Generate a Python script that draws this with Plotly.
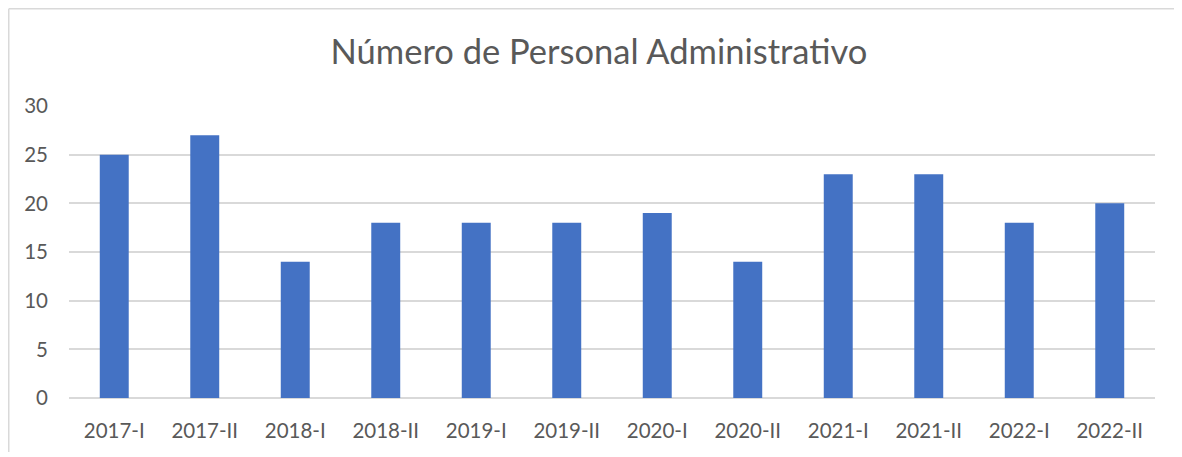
import plotly.graph_objects as go

categories = ["2017-I", "2017-II", "2018-I", "2018-II", "2019-I", "2019-II",
              "2020-I", "2020-II", "2021-I", "2021-II", "2022-I", "2022-II"]
values = [25, 27, 14, 18, 18, 18, 19, 14, 23, 23, 18, 20]
y_ticks = [0, 5, 10, 15, 20, 25, 30]

# page is offset by the default 8px body margin
OFF = 8
W, H = 1182, 457
L = 69 - OFF
T = 106 - OFF
R = W - (1155 - OFF)
B = H - (398 - OFF)
pw, ph = W - L - R, H - T - B

def px_x(px):
    return (px - L) / pw

def px_y(py):
    return (H - B - py) / ph

fig = go.Figure(go.Bar(x=categories, y=values, marker_color="#4472C4",
                       marker_line_width=0))

fig.update_layout(
    width=W, height=H,
    margin=dict(l=L, r=R, t=T, b=B),
    paper_bgcolor="white", plot_bgcolor="white",
    bargap=0.68,
    font=dict(family="Lato, Open Sans, sans-serif", color="#595959", size=20),
    title=dict(text="Número de Personal Administrativo", x=0.5, xanchor="center",
               y=1 - (52 - OFF) / H, yanchor="middle",
               font=dict(size=34.5, color="#595959")),
    xaxis=dict(showgrid=False, showline=False, ticks="", tickfont=dict(size=20.5),
               ticklabelstandoff=18),
    yaxis=dict(range=[0, 30], tickvals=y_ticks, showgrid=True, gridcolor="#D9D9D9",
               gridwidth=1.5, zeroline=True, zerolinecolor="#D9D9D9", zerolinewidth=1.5,
               ticks="", tickfont=dict(size=20.5), ticklabelstandoff=20),
    showlegend=False,
    shapes=[
        dict(type="line", xref="paper", yref="paper", x0=px_x(0.75), x1=px_x(W),
             y0=px_y(0.75), y1=px_y(0.75), line=dict(color="#D9D9D9", width=1.5)),
        dict(type="line", xref="paper", yref="paper", x0=px_x(0.75), x1=px_x(0.75),
             y0=px_y(0.75), y1=px_y(452 - OFF), line=dict(color="#D9D9D9", width=1.5)),
    ],
)

fig.write_html("out.html")
